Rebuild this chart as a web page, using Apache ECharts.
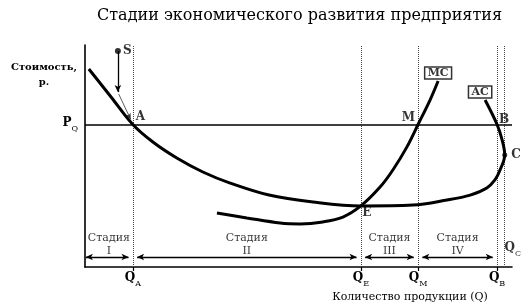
<!DOCTYPE html>
<html><head><meta charset="utf-8">
<script src="https://cdn.jsdelivr.net/npm/echarts@6/dist/echarts.min.js"></script>
<style>html,body{margin:0;padding:0;background:#fff}#c{width:528px;height:307px}</style>
</head><body><div id="c"></div>
<script>
// ---- data ----
const chartTitle = 'Стадии экономического развития предприятия';
const yTitle = 'Стоимость,\nр.';
const xTitle = 'Количество продукции (Q)';
const qNames = ['A', 'E', 'M', 'B'];
const qValues = [11.2, 64.6, 78.0, 96.5];
const qCName = 'C';
const qC = 98.3;
const pQ = 64.2;
const acQ =    [0.9, 6.1, 11.2, 15.9, 21.5, 27.6, 34.0, 43.1, 53.4, 64.6, 76.8, 84.8, 90.2, 94.1, 96.0, 97.2, 98.3, 97.7, 96.5, 93.7];
const acCost = [89.2, 76.6, 64.2, 56.3, 49.1, 42.8, 37.8, 32.4, 29.3, 27.5, 27.9, 30.2, 32.4, 35.6, 39.2, 43.7, 50.5, 57.2, 64.2, 75.2];
const mcQ =    [30.9, 37.9, 45.7, 50.4, 55.7, 60.4, 64.6, 69.1, 72.1, 75.4, 78.0, 80.8, 82.7];
const mcCost = [24.3, 22.1, 19.8, 19.4, 20.3, 22.5, 27.5, 36.0, 43.7, 54.1, 64.2, 75.2, 83.8];
const stageLabel = 'Стадия';
const stageNames = ['I', 'II', 'III', 'IV'];
const pointNames = ['S', 'A', 'M', 'B', 'C', 'E'];
const pointQ =     [7.7, 11.2, 78.0, 96.5, 98.3, 64.6];
const pointCost =  [97.3, 64.2, 64.2, 64.2, 50.5, 27.5];
const sArrowEnd = [7.7, 78.8];
const sToA = [[7.9, 77.9], [10.7, 66.5]];
const stageArrowCost = 4.5;
const stageLabelCost = 10.1;
const qcLabelCost = 7.6;

// ---- chart ----
const SERIF = 'DejaVu Serif';
const INK = '#000';
const chart = echarts.init(document.getElementById('c'), null, {renderer: 'canvas'});
const zip = (a, b) => a.map((v, i) => [v, b[i]]);
const subRich = {
  q: {fontFamily: SERIF, fontSize: 12, fontWeight: 'bold', color: INK, verticalAlign: 'top', lineHeight: 16},
  s: {fontFamily: SERIF, fontSize: 8, color: INK, verticalAlign: 'bottom', lineHeight: 8}
};
const bounds = [0].concat(qValues);
const gap = 1.0;
const markData = [];
qValues.concat([qC]).forEach(v => markData.push({xAxis: v, lineStyle: {type: 'dotted', width: 1, color: '#444'}}));
markData.push({yAxis: pQ, lineStyle: {type: 'solid', width: 1.6, color: INK}});
for (let i = 0; i < stageNames.length; i++) {
  markData.push([
    {coord: [bounds[i] + (i === 0 ? 0.2 : gap), stageArrowCost], symbol: 'arrow', symbolSize: [5, 7]},
    {coord: [bounds[i + 1] - gap, stageArrowCost], symbol: 'arrow', symbolSize: [5, 7], lineStyle: {type: 'solid', width: 1.3, color: INK}}
  ]);
}
markData.push([
  {coord: [pointQ[0], pointCost[0]], symbol: 'none'},
  {coord: sArrowEnd, symbol: 'arrow', symbolSize: [5, 7], lineStyle: {width: 1.3, color: INK, type: 'solid'}}
]);
markData.push([
  {coord: sToA[0], symbol: 'none'},
  {coord: sToA[1], symbol: 'arrow', symbolSize: [4, 6], lineStyle: {width: 0.8, color: '#333', type: 'solid'}}
]);

const pLabelStyle = {fontFamily: SERIF, fontSize: 12, fontWeight: 'bold', color: INK};
const pointLabelPos = {
  S: {position: 'right', distance: 2},
  A: {position: 'right', distance: 3, offset: [0, -8]},
  M: {position: 'left', distance: 3, offset: [0, -7]},
  B: {position: 'right', distance: 2, offset: [0, -5]},
  C: {position: 'right', distance: 4},
  E: {position: 'bottom', distance: 1, offset: [6, 0]}
};
const labelData = pointNames.map((n, i) => ({
  value: [pointQ[i], pointCost[i]],
  symbolSize: (n === 'S' ? 6 : n === 'C' ? 5 : 0),
  label: Object.assign({show: true, formatter: n}, pLabelStyle, pointLabelPos[n])
}));
const boxStyle = {show: true, fontFamily: SERIF, fontSize: 11, fontWeight: 'bold', color: INK,
  borderColor: INK, borderWidth: 1.5, padding: [1, 3, 0, 3], position: 'top', distance: 2};
labelData.push({value: [mcQ[mcQ.length - 1], mcCost[mcCost.length - 1]], symbolSize: 0,
  label: Object.assign({}, boxStyle, {formatter: 'MC'})});
labelData.push({value: [acQ[acQ.length - 1], acCost[acCost.length - 1]], symbolSize: 0,
  label: Object.assign({}, boxStyle, {formatter: 'AC', offset: [-5, 0]})});
for (let i = 0; i < stageNames.length; i++) {
  labelData.push({value: [(bounds[i] + bounds[i + 1]) / 2, stageLabelCost], symbolSize: 0,
    label: {show: true, position: 'inside', formatter: stageLabel + '\n' + stageNames[i],
      fontFamily: SERIF, fontSize: 11, lineHeight: 13, color: INK, align: 'center'}});
}
labelData.push({value: [qC, qcLabelCost], symbolSize: 0,
  label: {show: true, position: 'inside', offset: [8, 0], formatter: '{q|Q}{s|' + qCName + '}', rich: subRich}});

chart.setOption({
  animation: false,
  backgroundColor: '#fff',
  grid: {left: 85, right: 16, top: 45, bottom: 40},
  title: {text: chartTitle, left: 92, top: 3,
    textStyle: {fontFamily: SERIF, fontSize: 16, fontWeight: 'normal', color: INK}},
  graphic: [
    {type: 'text', x: 44, y: 60, style: {text: yTitle, fontFamily: SERIF, fontSize: 10, fontWeight: 'bold',
      fill: INK, align: 'center', lineHeight: 15}},
    {type: 'text', x: 410, y: 292, style: {text: xTitle, fontFamily: SERIF, fontSize: 11, fill: INK, align: 'center'}}
  ],
  xAxis: {type: 'value', min: 0, max: 100, splitLine: {show: false},
    axisLine: {show: true, lineStyle: {color: INK, width: 1.6}},
    axisTick: {show: true, customValues: qValues, length: 4, lineStyle: {color: INK, width: 1.2}},
    axisLabel: {show: true, customValues: qValues, margin: 5,
      formatter: v => { const i = qValues.findIndex(q => Math.abs(q - v) < 1e-6); return '{q|Q}{s|' + qNames[i] + '}'; },
      rich: subRich}},
  yAxis: {type: 'value', min: 0, max: 100, splitLine: {show: false},
    axisLine: {show: true, lineStyle: {color: INK, width: 1.6}},
    axisTick: {show: false},
    axisLabel: {show: true, customValues: [pQ], margin: 7, formatter: () => '{q|P}{s|Q}', rich: subRich}},
  series: [
    {type: 'line', name: 'AC', data: zip(acQ, acCost), smooth: 0.35, symbol: 'none',
      lineStyle: {color: INK, width: 3}, z: 5,
      markLine: {silent: true, symbol: 'none', label: {show: false}, data: markData, animation: false}},
    {type: 'line', name: 'MC', data: zip(mcQ, mcCost), smooth: 0.35, symbol: 'none',
      lineStyle: {color: INK, width: 3}, z: 5},
    {type: 'scatter', data: labelData, itemStyle: {color: INK}, z: 10, silent: true}
  ]
});
</script></body></html>
